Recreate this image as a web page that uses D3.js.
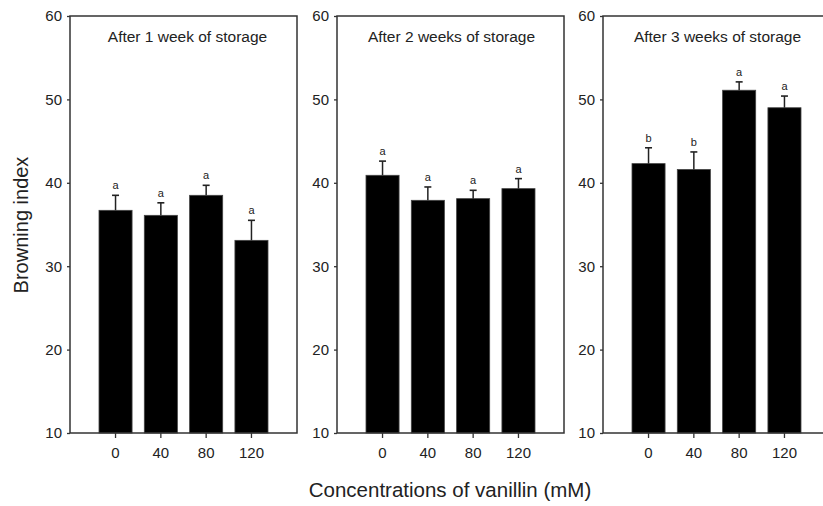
<!DOCTYPE html>
<html>
<head>
<meta charset="utf-8">
<script src="https://cdn.jsdelivr.net/npm/d3@7"></script>
<style>
  html, body { margin: 0; padding: 0; background: #fff; }
  svg { display: block; font-family: "Liberation Sans", Arial, sans-serif; }
</style>
</head>
<body>
<div id="chart"></div>
<script>
// ── Data ────────────────────────────────────────────────────────────────
const concentrations = ["0", "40", "80", "120"];
const panelTitles = ["After 1 week of storage", "After 2 weeks of storage", "After 3 weeks of storage"];
const yTicks = [10, 20, 30, 40, 50, 60];

const week1Means   = [36.7, 36.1, 38.5, 33.1];
const week1Errors  = [1.8, 1.5, 1.2, 2.4];
const week1Letters = ["a", "a", "a", "a"];

const week2Means   = [40.9, 37.9, 38.1, 39.3];
const week2Errors  = [1.7, 1.6, 1.0, 1.2];
const week2Letters = ["a", "a", "a", "a"];

const week3Means   = [42.3, 41.6, 51.1, 49.0];
const week3Errors  = [1.9, 2.1, 1.0, 1.4];
const week3Letters = ["b", "b", "a", "a"];

// ── Layout ──────────────────────────────────────────────────────────────
const W = 823, H = 506;
const AXIS_C = "#333";
const panelLeft = [70, 337, 603];
const panelW = 227;
const plotTop = 16, plotBottom = 433;

const svg = d3.select("#chart").append("svg")
  .attr("width", W).attr("height", H);

const y = d3.scaleLinear().domain([10, 60]).range([plotBottom, plotTop]);

const panels = [
  { means: week1Means, errors: week1Errors, letters: week1Letters },
  { means: week2Means, errors: week2Errors, letters: week2Letters },
  { means: week3Means, errors: week3Errors, letters: week3Letters }
];

panels.forEach((p, i) => {
  const g = svg.append("g").attr("transform", `translate(${panelLeft[i]},0)`);
  const x = d3.scaleBand()
    .domain(concentrations)
    .range([0, panelW])
    .paddingInner(0.27)
    .paddingOuter(0.64);

  const rows = concentrations.map((c, j) => ({ c, m: p.means[j], e: p.errors[j], l: p.letters[j] }));

  // bars
  g.selectAll(".bar").data(rows).enter().append("rect")
    .attr("x", d => x(d.c))
    .attr("y", d => y(d.m))
    .attr("width", x.bandwidth())
    .attr("height", d => y(10) - y(d.m))
    .attr("fill", "#000")
    .attr("stroke", "#444").attr("stroke-width", 0.8);

  // error bars (upper only)
  g.selectAll(".err").data(rows).enter().append("line")
    .attr("x1", d => x(d.c) + x.bandwidth() / 2)
    .attr("x2", d => x(d.c) + x.bandwidth() / 2)
    .attr("y1", d => y(d.m))
    .attr("y2", d => y(d.m + d.e))
    .attr("stroke", "#222").attr("stroke-width", 1.5);
  g.selectAll(".cap").data(rows).enter().append("line")
    .attr("x1", d => x(d.c) + x.bandwidth() / 2 - 3.5)
    .attr("x2", d => x(d.c) + x.bandwidth() / 2 + 3.5)
    .attr("y1", d => y(d.m + d.e))
    .attr("y2", d => y(d.m + d.e))
    .attr("stroke", "#222").attr("stroke-width", 1.6);

  // significance letters
  g.selectAll(".letter").data(rows).enter().append("text")
    .attr("x", d => x(d.c) + x.bandwidth() / 2)
    .attr("y", d => y(d.m + d.e) - 6)
    .attr("text-anchor", "middle")
    .attr("fill", "#222").style("font-size", "11px")
    .text(d => d.l);

  // frame
  g.append("rect")
    .attr("x", 0).attr("y", plotTop)
    .attr("width", panelW).attr("height", plotBottom - plotTop)
    .attr("fill", "none").attr("stroke", AXIS_C).attr("stroke-width", 1.5);

  // y axis
  const ya = g.append("g")
    .call(d3.axisLeft(y).tickValues(yTicks).tickSize(3).tickPadding(5));
  ya.select(".domain").remove();
  ya.selectAll("line").attr("stroke", AXIS_C).attr("stroke-width", 1.3);
  ya.selectAll("text").attr("fill", "#222").style("font-size", "15px")
    .attr("font-family", "Liberation Sans, Arial, sans-serif");

  // x axis
  const xa = g.append("g").attr("transform", `translate(0,${plotBottom})`)
    .call(d3.axisBottom(x).tickSize(5).tickPadding(9));
  xa.select(".domain").remove();
  xa.selectAll("line").attr("stroke", AXIS_C).attr("stroke-width", 1.3);
  xa.selectAll("text").attr("fill", "#222").style("font-size", "15px")
    .attr("font-family", "Liberation Sans, Arial, sans-serif");

  // title
  g.append("text")
    .attr("x", panelW / 2 + (i === 0 ? 4 : 1)).attr("y", 42)
    .attr("text-anchor", "middle")
    .attr("fill", "#222").style("font-size", "15.5px")
    .text(panelTitles[i]);
});

// axis titles
svg.append("text")
  .attr("transform", `translate(28,225) rotate(-90)`)
  .attr("text-anchor", "middle")
  .attr("fill", "#222").style("font-size", "20px")
  .text("Browning index");

svg.append("text")
  .attr("x", 450).attr("y", 497)
  .attr("text-anchor", "middle")
  .attr("fill", "#222").style("font-size", "20.5px")
  .text("Concentrations of vanillin (mM)");
</script>
</body>
</html>
